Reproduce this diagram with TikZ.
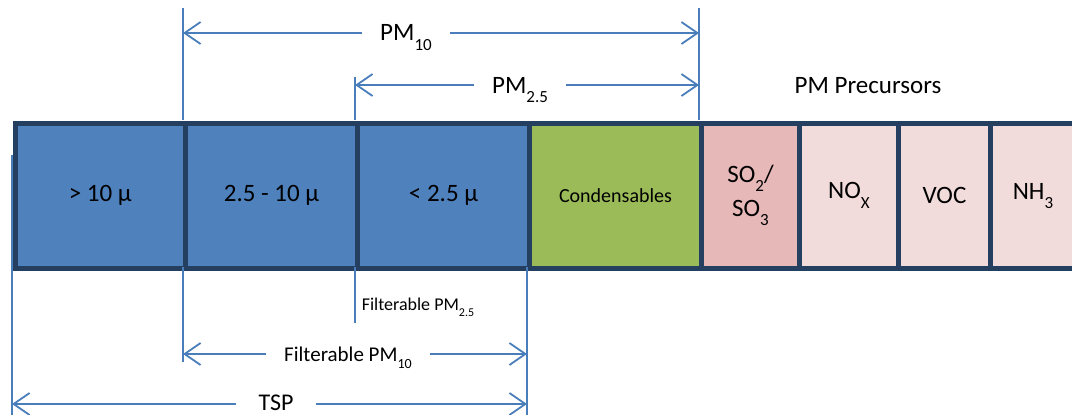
\documentclass[tikz,border=0pt]{standalone}
\usepackage{fontspec}
\setmainfont{Carlito}
\usetikzlibrary{arrows.meta}
\definecolor{cellblue}{HTML}{4F81BD}
\definecolor{cellgreen}{HTML}{9BBB59}
\definecolor{cellrose}{HTML}{E6B9B8}
\definecolor{cellpink}{HTML}{F2DCDB}
\definecolor{frameblue}{HTML}{243F60}
\definecolor{dimblue}{HTML}{4A7EBB}
\newcommand{\lowsub}[2]{\raisebox{-0.38em}{\fontsize{#1}{#1}\selectfont #2}}
\begin{document}
\begin{tikzpicture}[x=1pt,y=-1pt,
  cell/.style={draw=frameblue, line width=5pt, anchor=north west, minimum height=145pt,
    inner sep=0pt, align=center, font=\fontsize{25}{36}\selectfont},
  dimline/.style={draw=dimblue, line width=1.8pt},
  dimarrow/.style={dimline, {Straight Barb[length=16pt,width=22pt]}-{Straight Barb[length=16pt,width=22pt]}},
  lab/.style={fill=white, inner xsep=18pt, inner ysep=1pt, anchor=base},
  txt/.style={inner sep=0pt}]
\useasboundingbox (0,0) rectangle (1072,415);
\clip (0,0) rectangle (1072,415);
% cells
\node[cell, fill=cellblue, minimum width=170.5pt] (c1) at (12.5,120.5) {> 10 μ};
\node[cell, fill=cellblue, minimum width=172pt] (c2) at (183,120.5) {2.5 - 10 μ};
\node[cell, fill=cellblue, minimum width=172pt] (c3) at (355,120.5) {< 2.5 μ};
\node[cell, fill=cellgreen, minimum width=172pt, font=\fontsize{20}{24}\selectfont] (c4) at (527,120.5) {Condensables};
\node[cell, fill=cellrose, minimum width=98pt] (c5) at (699,120.5) {SO\lowsub{17}{2}/\\[-2pt]SO\lowsub{17}{3}};
\node[cell, fill=cellpink, minimum width=99pt] (c6) at (797,120.5) {NO\lowsub{17}{X}};
\node[cell, fill=cellpink, minimum width=92pt] (c7) at (896,120.5) {VOC};
\node[cell, fill=cellpink, minimum width=120pt] (c8) at (988,120.5) {};
\node[txt, font=\fontsize{25}{30}\selectfont, anchor=base] (nh3) at (1033,199) {NH\lowsub{17}{3}};
% dimension ticks
\coordinate (a1) at (183,8);   \coordinate (a2) at (183,120);
\coordinate (b1) at (699,8);   \coordinate (b2) at (699,120);
\coordinate (c1t) at (355,77); \coordinate (c2t) at (355,120);
\coordinate (d1) at (12,155);  \coordinate (d2) at (12,415);
\coordinate (e1) at (183,267); \coordinate (e2) at (183,362);
\coordinate (f1) at (355,267); \coordinate (f2) at (355,323);
\coordinate (g1) at (527,267); \coordinate (g2) at (527,415);
\draw[dimline] (a1) -- (a2);
\draw[dimline] (b1) -- (b2);
\draw[dimline] (c1t) -- (c2t);
\draw[dimline] (d1) -- (d2);
\draw[dimline] (e1) -- (e2);
\draw[dimline] (f1) -- (f2);
\draw[dimline] (g1) -- (g2);
% arrows
\coordinate (pm10L) at (183,33);  \coordinate (pm10R) at (699,33);
\coordinate (pm25L) at (355,85);  \coordinate (pm25R) at (699,85);
\coordinate (fpmL) at (183,354);  \coordinate (fpmR) at (527,354);
\coordinate (tspL) at (12,404);   \coordinate (tspR) at (527,404);
\draw[dimarrow] (pm10L) -- (pm10R);
\draw[dimarrow] (pm25L) -- (pm25R);
\draw[dimarrow] (fpmL) -- (fpmR);
\draw[dimarrow] (tspL) -- (tspR);
% labels
\node[lab, font=\fontsize{25}{30}\selectfont] (lpm10) at (406,41) {PM\lowsub{17}{10}};
\node[lab, font=\fontsize{25}{30}\selectfont] (lpm25) at (520,93) {PM\lowsub{17}{2.5}};
\node[lab, font=\fontsize{21}{25}\selectfont] (lfpm10) at (348,361) {Filterable PM\lowsub{14}{10}};
\node[lab, font=\fontsize{24}{28}\selectfont, inner xsep=22pt] (ltsp) at (276,410) {TSP};
\node[txt, font=\fontsize{18}{22}\selectfont, anchor=base] (lfpm25) at (418,310) {Filterable PM\lowsub{12}{2.5}};
\node[txt, font=\fontsize{25}{30}\selectfont, anchor=base] (lprec) at (868,93) {PM Precursors};
\end{tikzpicture}
\end{document}
